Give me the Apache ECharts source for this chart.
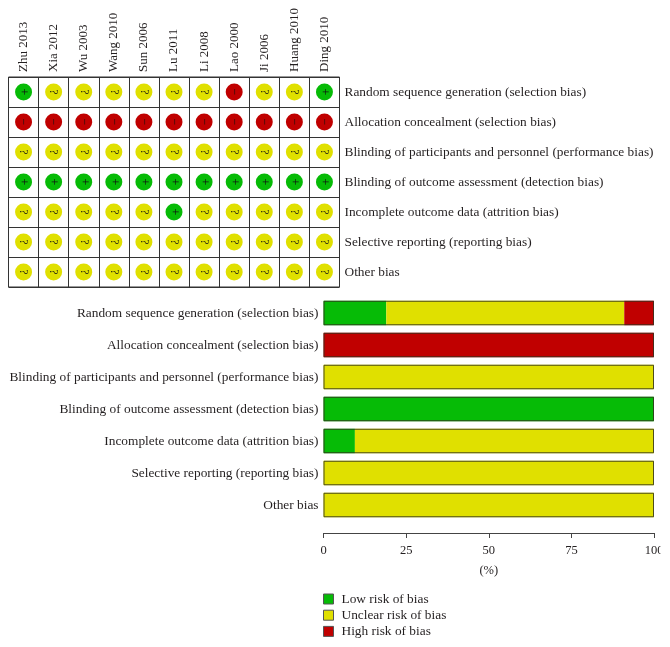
<!DOCTYPE html>
<html>
<head>
<meta charset="utf-8">
<style>html,body{margin:0;padding:0;background:#fff}#c{width:670px;height:647px}</style>
<script src="https://cdn.jsdelivr.net/npm/echarts@6/dist/echarts.min.js"></script>
</head>
<body>
<div id="c"></div>
<script>
const studies = ['Zhu 2013','Xia 2012','Wu 2003','Wang 2010','Sun 2006','Lu 2011','Li 2008','Lao 2000','Ji 2006','Huang 2010','Ding 2010'];
const domains = [
  'Random sequence generation (selection bias)',
  'Allocation concealment (selection bias)',
  'Blinding of participants and personnel (performance bias)',
  'Blinding of outcome assessment (detection bias)',
  'Incomplete outcome data (attrition bias)',
  'Selective reporting (reporting bias)',
  'Other bias'
];
const judgements = [
  ['+','?','?','?','?','?','?','-','?','?','+'],
  ['-','-','-','-','-','-','-','-','-','-','-'],
  ['?','?','?','?','?','?','?','?','?','?','?'],
  ['+','+','+','+','+','+','+','+','+','+','+'],
  ['?','?','?','?','?','+','?','?','?','?','?'],
  ['?','?','?','?','?','?','?','?','?','?','?'],
  ['?','?','?','?','?','?','?','?','?','?','?']
];
const lowRisk = [19, 0, 0, 100, 9.5, 0, 0];
const unclearRisk = [72, 0, 100, 0, 90.5, 100, 100];
const highRisk = [9, 100, 0, 0, 0, 0, 0];
const outline = [100, 100, 100, 100, 100, 100, 100];
const percentTicks = [0, 25, 50, 75, 100];

const GREEN = '#06bb06', YELLOW = '#e0e000', RED = '#c00000', INK = '#231f20';
const FONT = '"Liberation Serif", serif';
const colorOf = {'+': GREEN, '?': YELLOW, '-': RED};
const pts = [];
judgements.forEach((row, r) => row.forEach((j, c) => pts.push({
  value: [c, r, j], itemStyle: {color: colorOf[j]}
})));

const chart = echarts.init(document.getElementById('c'), null, {renderer: 'canvas'});
chart.setOption({
  animation: false,
  textStyle: {fontFamily: FONT, color: INK},
  grid: [
    {left: 8.5, top: 77, width: 331, height: 210, show: true, borderColor: '#333', borderWidth: 1, backgroundColor: '#fff'},
    {left: 323.5, top: 297, width: 330.5, height: 224}
  ],
  xAxis: [
    {type: 'category', gridIndex: 0, position: 'top', data: studies,
      axisLine: {show: false}, axisTick: {show: false},
      splitLine: {show: true, lineStyle: {color: '#333', width: 1}},
      axisLabel: {rotate: -90, interval: 0, margin: 5, fontSize: 13, color: INK, fontFamily: FONT}},
    {type: 'value', gridIndex: 1, min: 0, max: 100, interval: 25, offset: 12,
      position: 'bottom', splitLine: {show: false},
      axisLine: {show: true, lineStyle: {color: '#444', width: 1}},
      axisTick: {show: true, length: 5, lineStyle: {color: '#444', width: 1}},
      axisLabel: {margin: 11, fontSize: 12.5, color: INK, fontFamily: FONT,
        customValues: percentTicks},
      name: '(%)', nameLocation: 'middle', nameGap: 31,
      nameTextStyle: {fontSize: 12.5, color: INK, fontFamily: FONT}}
  ],
  yAxis: [
    {type: 'category', gridIndex: 0, position: 'right', inverse: true, data: domains,
      axisLine: {show: false}, axisTick: {show: false},
      splitLine: {show: true, lineStyle: {color: '#333', width: 1}},
      axisLabel: {interval: 0, margin: 5, fontSize: 13.35, color: INK, fontFamily: FONT}},
    {type: 'category', gridIndex: 1, inverse: true, data: domains,
      axisLine: {show: false}, axisTick: {show: false}, splitLine: {show: false},
      axisLabel: {interval: 0, margin: 5, fontSize: 13.35, color: INK, fontFamily: FONT}}
  ],
  legend: {
    left: 323, top: 592.5, orient: 'vertical', itemWidth: 10, itemHeight: 10, itemGap: 3.2,
    padding: 0, height: 54, icon: 'rect', selectedMode: false,
    data: ['Low risk of bias', 'Unclear risk of bias', 'High risk of bias'],
    textStyle: {fontSize: 13.35, lineHeight: 10, color: INK, fontFamily: FONT, padding: [0, 0, 0, 3]},
    itemStyle: {borderColor: '#555', borderWidth: 1}
  },
  graphic: [{type: 'rect', z: 100, shape: {x: 660.5, y: 540, width: 10, height: 20}, style: {fill: '#fff'}}],
  series: [
    {type: 'scatter', xAxisIndex: 0, yAxisIndex: 0, data: pts, symbol: 'circle', symbolSize: 17,
      encode: {x: 0, y: 1}, silent: true, itemStyle: {opacity: 1},
      label: {show: true, position: 'inside', rotate: -90, color: '#111', fontSize: 12, fontFamily: FONT,
        formatter: p => p.value[2] === '-' ? '\u2212' : p.value[2]}},
    {name: 'Low risk of bias', type: 'bar', stack: 'r', xAxisIndex: 1, yAxisIndex: 1, barWidth: 24.5, data: lowRisk,
      itemStyle: {color: GREEN}},
    {name: 'Unclear risk of bias', type: 'bar', stack: 'r', xAxisIndex: 1, yAxisIndex: 1, barWidth: 24.5, data: unclearRisk,
      itemStyle: {color: YELLOW}},
    {name: 'High risk of bias', type: 'bar', stack: 'r', xAxisIndex: 1, yAxisIndex: 1, barWidth: 24.5, data: highRisk,
      itemStyle: {color: RED}},
    {name: 'outline', type: 'bar', stack: 'o', xAxisIndex: 1, yAxisIndex: 1, barWidth: 24.5, barGap: '-100%', data: outline, z: 5,
      silent: true, itemStyle: {color: 'rgba(0,0,0,0)', borderColor: 'rgba(50,50,30,0.85)', borderWidth: 1}}
  ]
});
</script>
</body>
</html>
